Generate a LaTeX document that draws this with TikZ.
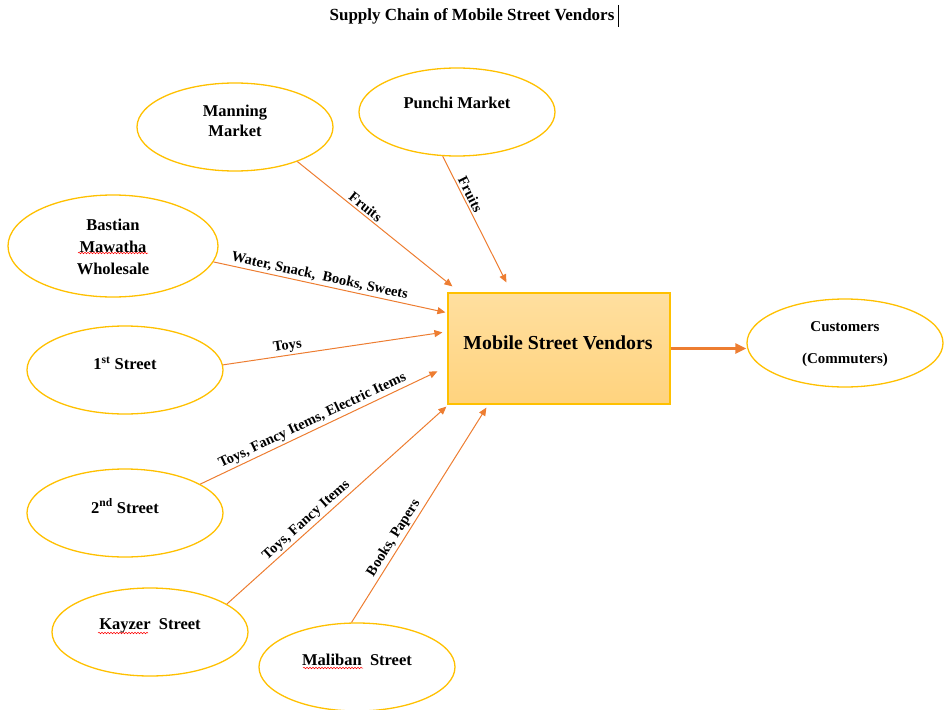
\documentclass[tikz,border=0pt]{standalone}
\usepackage{fontspec}
\setmainfont{Liberation Serif}
\usetikzlibrary{arrows.meta,calc,decorations.pathmorphing,shapes.geometric}

\definecolor{rimgold}{HTML}{FFC000}
\definecolor{flow}{HTML}{ED7D31}
\definecolor{boxtop}{HTML}{FFDF9F}
\definecolor{boxbot}{HTML}{FFD37E}

\tikzset{
  src/.style={ellipse, draw=rimgold, line width=1.3pt, minimum width=196pt,
              minimum height=88pt, inner sep=0pt},
  ttl/.style={font=\bfseries\fontsize{16.5}{20}\selectfont, align=center, inner sep=0pt},
  feed/.style={draw=flow, line width=1pt, -{Triangle[length=8pt,width=7pt]}},
  lbl/.style={font=\bfseries\fontsize{14.5}{16}\selectfont, sloped, above,
              inner sep=2pt},
  spellmark/.style={draw=red, line width=0.5pt, decorate,
                    decoration={snake, amplitude=0.8pt, segment length=3pt}}
}

\begin{document}
\begin{tikzpicture}[x=1pt, y=-1pt]
\useasboundingbox (0,0) rectangle (947,709);

% heading with the text cursor after it
\node[font=\bfseries\fontsize{17}{20}\selectfont] (title) at (472,16)
  {Supply Chain of Mobile Street Vendors};
\draw[line width=0.8pt] ($(title.east)+(0,-11)$) -- ($(title.east)+(0,11)$);

% suppliers
\node[src] (man) at (235,127) {};
\node[ttl] (manT) at (235,121) {Manning\\Market};

\node[src] (pun) at (457,112) {};
\node[ttl] (punT) at (457,103) {Punchi Market};

\node[src, minimum width=210pt, minimum height=102pt] (bas) at (113,246) {};
\node[ttl, font=\bfseries\fontsize{16.5}{22}\selectfont] (basT) at (113,247)
  {Bastian\\Mawatha\\Wholesale};

\node[src] (st1) at (125,370) {};
\node[ttl] (st1T) at (125,363) {1\textsuperscript{st} Street};

\node[src] (st2) at (125,513) {};
\node[ttl] (st2T) at (125,506) {2\textsuperscript{nd} Street};

\node[src] (kay) at (150,632) {};
\node[ttl] (kayT) at (150,626) {Kayzer\ \ Street};

\node[src] (mal) at (357,667) {};
\node[ttl] (malT) at (357,660) {Maliban\ \ Street};

% spell-check underlines
\draw[spellmark] (78,253) -- (148,253);
\draw[spellmark] (98,633) -- (148,633);
\draw[spellmark] (303,668) -- (363,668);

% vendors and customers
\node[draw=rimgold, line width=1.2pt, top color=boxtop, bottom color=boxbot,
      minimum width=222pt, minimum height=111pt, inner sep=0pt] (hub) at (559,348.5) {};
\node[font=\bfseries\fontsize{19.8}{22}\selectfont] (hubT) at (558,343)
  {Mobile Street Vendors};

\node[src] (cus) at (845,343) {};
\node[ttl, font=\bfseries\fontsize{15}{32}\selectfont] (cusT) at (845,344)
  {Customers\\(Commuters)};

% flows of goods
\draw[feed] (man.-29) -- node[lbl, pos=0.41] {Fruits}
  ($(hub.north west)+(5,-6)$);
\draw[feed] (pun.-108) -- node[lbl, pos=0.33] {Fruits}
  ($(hub.north west)+(59,-10)$);
\draw[feed] (bas.-9.6) -- node[lbl, pos=0.45] {Water, Snack, \ Books, Sweets}
  ($(hub.north west)+(-2,20)$);
\draw[feed] (st1.3.4) -- node[lbl, pos=0.30] {Toys}
  ($(hub.north west)+(-5,40)$);
\draw[feed] (st2.21.8) -- node[lbl, pos=0.49] {Toys, Fancy Items, Electric Items}
  ($(hub.north west)+(-10,79)$);
\draw[feed] (kay.20.5) -- node[lbl, pos=0.39] {Toys, Fancy Items}
  ($(hub.south west)+(-1,2)$);
\draw[feed] (mal.97.8) -- node[lbl, pos=0.37] {Books, Papers}
  ($(hub.south west)+(39,3)$);

\draw[draw=flow, line width=3pt, -{Triangle[length=11pt,width=10pt]}]
  (hub.east) -- (hub.east -| cus.west);
\end{tikzpicture}
\end{document}
